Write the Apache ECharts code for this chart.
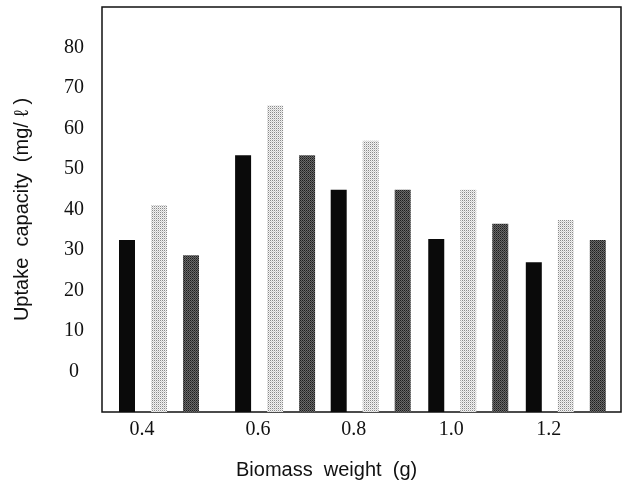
<!DOCTYPE html>
<html>
<head>
<meta charset="utf-8">
<script src="https://cdn.jsdelivr.net/npm/echarts@6/dist/echarts.min.js"></script>
<style>html,body{margin:0;padding:0;background:#fff;}#c{width:627px;height:487px;}</style>
</head>
<body>
<div id="c"></div>
<script>
// Biomass weight categories (x tick labels)
const categories = ['0.4', '0.6', '0.8', '1.0', '1.2'];
// Position of each category along the (irregularly spaced) x axis, in axis units
const slotPos = [0.41, 1.60, 2.58, 3.58, 4.58];
// Uptake capacity (mg/l), three bars per biomass weight
const seriesBlack = [32.5, 53.4, 44.9, 32.7, 27.0];
const seriesLight = [41.1, 65.7, 57.0, 44.9, 37.4];
const seriesDark  = [28.7, 53.4, 44.9, 36.5, 32.5];
// y tick labels shown
const yTicks = [0, 10, 20, 30, 40, 50, 60, 70, 80];

function makePattern(bg, dot, dot2) {
  const cv = document.createElement('canvas');
  cv.width = 2; cv.height = 2;
  const ctx = cv.getContext('2d');
  ctx.fillStyle = bg; ctx.fillRect(0, 0, 2, 2);
  ctx.fillStyle = dot; ctx.fillRect(0, 0, 1, 1);
  ctx.fillStyle = dot2; ctx.fillRect(1, 1, 1, 1);
  return { image: cv, repeat: 'repeat' };
}
const lightFill = makePattern('#f2f2f2', '#8a8a8a', '#d0d0d0');
const darkFill = makePattern('#6a6a6a', '#1e1e1e', '#3a3a3a');

const Y_MIN = -10, Y_MAX = 90;

function barSeries(name, values, fill, offset) {
  return {
    type: 'custom',
    name: name,
    data: values.map((v, i) => [slotPos[i], v]),
    renderItem: function (params, api) {
      const top = api.coord([api.value(0), api.value(1)]);
      const base = api.coord([api.value(0), Y_MIN]);
      const w = 16;
      return {
        type: 'rect',
        shape: { x: top[0] + offset - w / 2, y: top[1], width: w, height: base[1] - top[1] },
        style: { fill: fill }
      };
    }
  };
}

const chart = echarts.init(document.getElementById('c'));
chart.setOption({
  animation: false,
  grid: { left: 102, right: 6, top: 7, bottom: 75, outerBoundsMode: 'none', containLabel: false, show: true, borderColor: '#111', borderWidth: 1.5, backgroundColor: 'transparent' },
  xAxis: {
    type: 'value', min: 0, max: 5.32,
    axisLine: { show: false }, axisTick: { show: false }, splitLine: { show: false },
    axisLabel: {
      customValues: slotPos,
      formatter: function (v) {
        let best = 0;
        for (let i = 1; i < slotPos.length; i++) if (Math.abs(slotPos[i] - v) < Math.abs(slotPos[best] - v)) best = i;
        return categories[best];
      },
      fontFamily: 'Liberation Serif', fontSize: 20, color: '#111', margin: 8
    }
  },
  yAxis: {
    type: 'value', min: Y_MIN, max: Y_MAX, interval: 10,
    name: 'Uptake  capacity  (mg/ ℓ )', nameLocation: 'middle', nameGap: 70, nameRotate: 90,
    nameTextStyle: { fontFamily: 'Liberation Sans', fontSize: 20, color: '#111' },
    axisLine: { show: false }, axisTick: { show: false }, splitLine: { show: false },
    axisLabel: {
      formatter: function (v) { return yTicks.indexOf(v) >= 0 ? String(v) : ''; },
      fontFamily: 'Liberation Serif', fontSize: 20, color: '#111', align: 'center', margin: 28
    }
  },
  graphic: [{
    type: 'text', left: 236, top: 460,
    style: { text: 'Biomass  weight  (g)', font: '20px "Liberation Sans"', fill: '#111' }
  }],
  series: [
    barSeries('A', seriesBlack, '#0a0a0a', -15),
    barSeries('B', seriesLight, lightFill, 17),
    barSeries('C', seriesDark, darkFill, 49)
  ]
});
</script>
</body>
</html>
